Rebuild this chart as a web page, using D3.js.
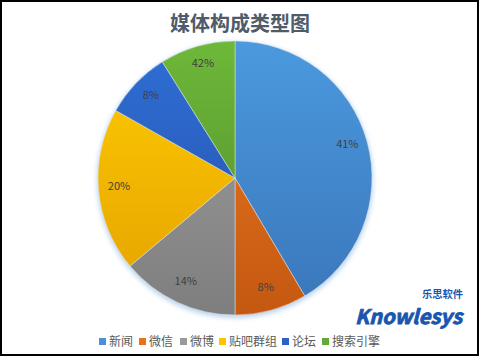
<html lang="zh">
<head>
<meta charset="utf-8">
<script src="https://d3js.org/d3.v7.min.js"></script>
<style>
  body { margin: 0; background: #fff; }
  svg text { font-family: "Noto Sans CJK SC", "Microsoft YaHei", sans-serif; }
</style>
</head>
<body>
<script>
// chart data
var categories = ["新闻", "微信", "微博", "贴吧群组", "论坛", "搜索引擎"];
var values = [41.5, 8.5, 13.9, 19.3, 7.9, 8.9];
var labels = ["41%", "8%", "14%", "20%", "8%", "42%"];
var colorsTop = ["#4b99de", "#ec7a24", "#a0a0a0", "#ffcd00", "#2f6fd6", "#6db839"];
var colorsBottom = ["#3a76ba", "#c45810", "#7e7e7e", "#e4a000", "#2450a6", "#4f8a2a"];
var legendColors = ["#4a90d9", "#e8711c", "#9a9a9a", "#ffc400", "#2c62c6", "#64a83a"];

var width = 480, height = 357;
var cx = 235, cy = 178, r = 137;

var svg = d3.select("body").append("svg")
    .attr("width", width)
    .attr("height", height);

var defs = svg.append("defs");

// soft glow under the pie
var glow = defs.append("filter").attr("id", "glow")
    .attr("x", "-20%").attr("y", "-20%").attr("width", "140%").attr("height", "140%");
glow.append("feGaussianBlur").attr("stdDeviation", 2.5);

// top-to-bottom shading, coords relative to the pie centre
categories.forEach(function(c, i) {
  var lg = defs.append("linearGradient").attr("id", "grad" + i)
      .attr("gradientUnits", "userSpaceOnUse")
      .attr("x1", 0).attr("y1", -r).attr("x2", 0).attr("y2", r);
  lg.append("stop").attr("offset", "0%").attr("stop-color", colorsTop[i]);
  lg.append("stop").attr("offset", "100%").attr("stop-color", colorsBottom[i]);
});

svg.append("rect")
    .attr("x", 1).attr("y", 1)
    .attr("width", width - 3).attr("height", height - 3)
    .attr("fill", "#fff")
    .attr("stroke", "#000")
    .attr("stroke-width", 2);

svg.append("text")
    .attr("x", 240).attr("y", 31)
    .attr("text-anchor", "middle")
    .attr("font-size", 20)
    .attr("font-weight", "bold")
    .attr("fill", "#4f5b69")
    .text("媒体构成类型图");

var pie = d3.pie().sort(null).value(function(d) { return d; });
var arcs = pie(values);
var arc = d3.arc().innerRadius(0).outerRadius(r);
var labelArc = d3.arc().innerRadius(r * 0.85).outerRadius(r * 0.85);

var g = svg.append("g").attr("transform", "translate(" + cx + "," + cy + ")");

g.append("circle")
    .attr("cx", 0).attr("cy", 2)
    .attr("r", r + 1)
    .attr("fill", "#b8d3ee")
    .attr("filter", "url(#glow)");

g.selectAll("path.slice")
    .data(arcs)
    .enter().append("path")
    .attr("class", "slice")
    .attr("d", arc)
    .attr("fill", function(d, i) { return "url(#grad" + i + ")"; })
    .attr("stroke", "#e6e6e6")
    .attr("stroke-width", 0.5);

g.selectAll("text.lbl")
    .data(arcs)
    .enter().append("text")
    .attr("class", "lbl")
    .attr("transform", function(d) { return "translate(" + labelArc.centroid(d) + ")"; })
    .attr("text-anchor", "middle")
    .attr("dy", "0.1em")
    .attr("font-size", 11)
    .attr("fill", "#404040")
    .text(function(d, i) { return labels[i]; });

// legend
var legendX = [99, 139, 180, 219, 282, 322];
var legend = svg.append("g");
categories.forEach(function(c, i) {
  legend.append("rect")
      .attr("x", legendX[i]).attr("y", 338)
      .attr("width", 7).attr("height", 7)
      .attr("fill", legendColors[i]);
  legend.append("text")
      .attr("x", legendX[i] + 10).attr("y", 346)
      .attr("font-size", 12)
      .attr("fill", "#595959")
      .text(c);
});

// logo
svg.append("text")
    .attr("x", 422).attr("y", 298)
    .attr("font-size", 10)
    .attr("font-weight", "bold")
    .attr("textLength", 41)
    .attr("lengthAdjust", "spacingAndGlyphs")
    .attr("fill", "#1856b0")
    .text("乐思软件");
svg.append("text")
    .attr("x", 355).attr("y", 324)
    .attr("font-family", "Liberation Sans, Arial, sans-serif")
    .attr("font-size", 20)
    .attr("font-weight", "bold")
    .attr("font-style", "italic")
    .attr("textLength", 107)
    .attr("lengthAdjust", "spacingAndGlyphs")
    .attr("fill", "#1856b0")
    .attr("stroke", "#1856b0")
    .attr("stroke-width", 0.8)
    .text("Knowlesys");
</script>
</body>
</html>
